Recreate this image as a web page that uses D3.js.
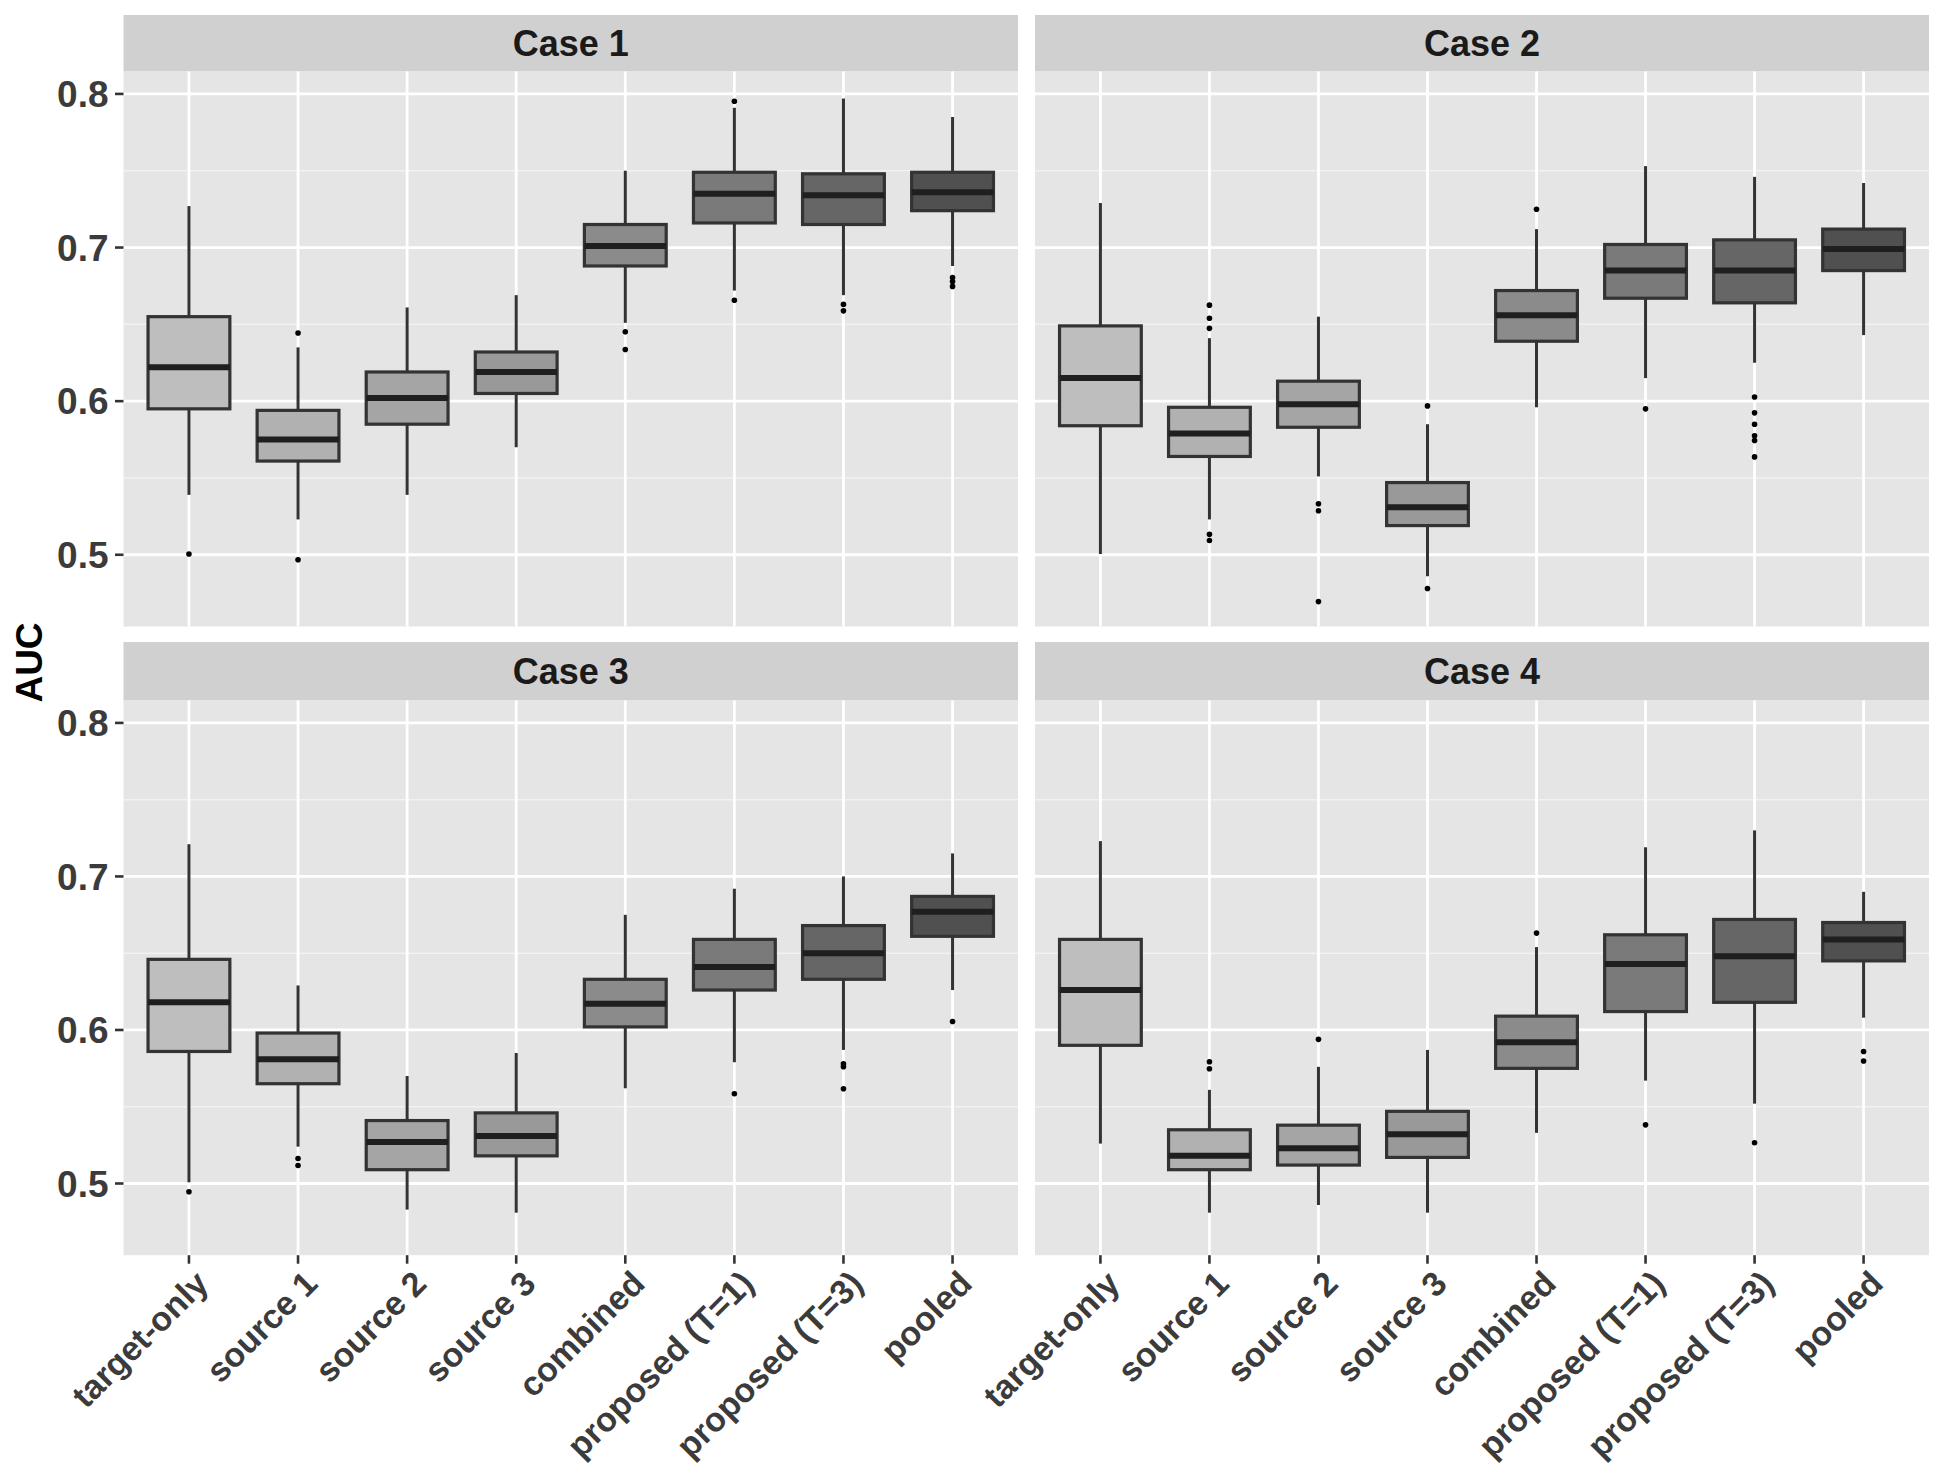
<!DOCTYPE html>
<html>
<head>
<meta charset="utf-8">
<script src="https://cdn.jsdelivr.net/npm/d3@7"></script>
<style>
  html, body { margin: 0; padding: 0; background: #ffffff; }
  svg { display: block; }
</style>
</head>
<body>
<svg id="chart" width="1950" height="1477"></svg>
<script>
// ---------------- data ----------------
const methods = ["target-only", "source 1", "source 2", "source 3", "combined", "proposed (T=1)", "proposed (T=3)", "pooled"];
const caseTitles = ["Case 1", "Case 2", "Case 3", "Case 4"];
const yTicks = [0.5, 0.6, 0.7, 0.8];
const yMinor = [0.55, 0.65, 0.75];
const fillColors = ["#bebebe", "#b1b1b1", "#a5a5a5", "#999999", "#8b8b8b", "#7a7a7a", "#666666", "#505050"];

// five-number summaries per method: [lower whisker, Q1, median, Q3, upper whisker]
const case1Stats = [
  [0.539, 0.595, 0.622, 0.655, 0.727],
  [0.523, 0.561, 0.575, 0.594, 0.635],
  [0.539, 0.585, 0.602, 0.619, 0.661],
  [0.570, 0.605, 0.619, 0.632, 0.669],
  [0.651, 0.688, 0.701, 0.715, 0.750],
  [0.672, 0.716, 0.735, 0.749, 0.791],
  [0.669, 0.715, 0.734, 0.748, 0.797],
  [0.688, 0.724, 0.736, 0.749, 0.785]
];
const case1Outliers = [[0.5005], [0.6444, 0.4968], [], [], [0.6452, 0.6336], [0.7952, 0.6657], [0.663, 0.6588], [0.6805, 0.6779, 0.6747]];

const case2Stats = [
  [0.5005, 0.584, 0.615, 0.649, 0.729],
  [0.523, 0.564, 0.579, 0.596, 0.641],
  [0.551, 0.583, 0.598, 0.613, 0.655],
  [0.486, 0.519, 0.531, 0.547, 0.585],
  [0.596, 0.639, 0.656, 0.672, 0.712],
  [0.615, 0.667, 0.685, 0.702, 0.753],
  [0.625, 0.664, 0.685, 0.705, 0.746],
  [0.643, 0.685, 0.699, 0.712, 0.742]
];
const case2Outliers = [[], [0.6625, 0.654, 0.6474, 0.5133, 0.5093], [0.5332, 0.5287, 0.4695], [0.5969, 0.478], [0.7249], [0.595], [0.6027, 0.5924, 0.585, 0.5775, 0.5744, 0.5637], []];

const case3Stats = [
  [0.5008, 0.586, 0.618, 0.646, 0.721],
  [0.524, 0.565, 0.581, 0.598, 0.629],
  [0.483, 0.509, 0.527, 0.541, 0.570],
  [0.481, 0.518, 0.531, 0.546, 0.585],
  [0.562, 0.602, 0.617, 0.633, 0.675],
  [0.579, 0.626, 0.641, 0.659, 0.692],
  [0.587, 0.633, 0.650, 0.668, 0.700],
  [0.626, 0.661, 0.677, 0.687, 0.715]
];
const case3Outliers = [[0.4946], [0.5163, 0.5117], [], [], [], [0.5585], [0.5779, 0.576, 0.5617], [0.6055]];

const case4Stats = [
  [0.526, 0.590, 0.626, 0.659, 0.723],
  [0.481, 0.509, 0.518, 0.535, 0.561],
  [0.486, 0.512, 0.523, 0.538, 0.576],
  [0.481, 0.517, 0.532, 0.547, 0.587],
  [0.533, 0.575, 0.592, 0.609, 0.654],
  [0.567, 0.612, 0.643, 0.662, 0.719],
  [0.552, 0.618, 0.648, 0.672, 0.730],
  [0.608, 0.645, 0.659, 0.670, 0.690]
];
const case4Outliers = [[], [0.5793, 0.5747], [0.5939], [], [0.6631], [0.5382], [0.5265], [0.586, 0.5798]];

const allStats = [case1Stats, case2Stats, case3Stats, case4Stats];
const allOutliers = [case1Outliers, case2Outliers, case3Outliers, case4Outliers];

// ---------------- layout ----------------
const svg = d3.select("#chart");
const colX = [[123.5, 1018], [1035, 1929]];
const rowY = [{strip: 15, top: 71.5, bottom: 626.5}, {strip: 642, top: 700.5, bottom: 1255.2}];
const yDomain = [0.4533, 0.8146];

const font = "'Liberation Sans', Arial, Helvetica, sans-serif";

caseTitles.forEach((title, ci) => {
  const col = ci % 2, row = Math.floor(ci / 2);
  const [x0, x1] = colX[col];
  const r = rowY[row];
  const x = d3.scaleBand().domain(methods).range([x0, x1]).paddingOuter(0.1).paddingInner(0); // placeholder
  // ggplot discrete expansion: 0.6 units each side
  const step = (x1 - x0) / (methods.length - 1 + 1.2);
  const xPos = d3.scalePoint().domain(methods).range([x0 + 0.6 * step, x1 - 0.6 * step]);
  const y = d3.scaleLinear().domain(yDomain).range([r.bottom, r.top]);
  const g = svg.append("g");

  // strip
  g.append("rect").attr("x", x0).attr("y", r.strip).attr("width", x1 - x0).attr("height", r.top - r.strip).attr("fill", "#d0d0d0");
  g.append("text").attr("x", (x0 + x1) / 2).attr("y", (r.strip + r.top) / 2).attr("dy", "0.36em")
    .attr("text-anchor", "middle").attr("font-family", font).attr("font-weight", "bold")
    .attr("font-size", 36).attr("fill", "#1a1a1a").text(title);

  // panel background
  g.append("rect").attr("x", x0).attr("y", r.top).attr("width", x1 - x0).attr("height", r.bottom - r.top).attr("fill", "#e5e5e5");

  // grid lines
  g.selectAll(".minor").data(yMinor).join("line")
    .attr("x1", x0).attr("x2", x1).attr("y1", d => y(d)).attr("y2", d => y(d))
    .attr("stroke", "#f2f2f2").attr("stroke-width", 1.5);
  g.selectAll(".major").data(yTicks).join("line")
    .attr("x1", x0).attr("x2", x1).attr("y1", d => y(d)).attr("y2", d => y(d))
    .attr("stroke", "#ffffff").attr("stroke-width", 2.8);
  g.selectAll(".vmajor").data(methods).join("line")
    .attr("x1", d => xPos(d)).attr("x2", d => xPos(d)).attr("y1", r.top).attr("y2", r.bottom)
    .attr("stroke", "#ffffff").attr("stroke-width", 2.8);

  const stats = allStats[ci];
  const outs = allOutliers[ci];
  const bw = 0.75 * step;

  methods.forEach((m, mi) => {
    const [lo, q1, med, q3, hi] = stats[mi];
    const cx = xPos(m);
    // whiskers
    g.append("line").attr("x1", cx).attr("x2", cx).attr("y1", y(hi)).attr("y2", y(q3))
      .attr("stroke", "#333333").attr("stroke-width", 3);
    g.append("line").attr("x1", cx).attr("x2", cx).attr("y1", y(q1)).attr("y2", y(lo))
      .attr("stroke", "#333333").attr("stroke-width", 3);
    // box
    g.append("rect").attr("x", cx - bw / 2).attr("y", y(q3)).attr("width", bw).attr("height", y(q1) - y(q3))
      .attr("fill", fillColors[mi]).attr("stroke", "#333333").attr("stroke-width", 3.2);
    // median
    g.append("line").attr("x1", cx - bw / 2).attr("x2", cx + bw / 2).attr("y1", y(med)).attr("y2", y(med))
      .attr("stroke", "#1f1f1f").attr("stroke-width", 6);
    // outliers
    g.selectAll(null).data(outs[mi]).join("circle")
      .attr("cx", cx).attr("cy", d => y(d)).attr("r", 2.8).attr("fill", "#000000");
  });

  // y axis (left column only)
  if (col === 0) {
    g.selectAll(".ytick").data(yTicks).join("line")
      .attr("x1", x0 - 8.5).attr("x2", x0).attr("y1", d => y(d)).attr("y2", d => y(d))
      .attr("stroke", "#333333").attr("stroke-width", 2.6);
    g.selectAll(".ylab").data(yTicks).join("text")
      .attr("x", x0 - 15).attr("y", d => y(d)).attr("dy", "0.36em")
      .attr("text-anchor", "end").attr("font-family", font).attr("font-weight", "bold")
      .attr("font-size", 37).attr("fill", "#3b3b3b").text(d => d3.format(".1f")(d));
  }
  // x axis (bottom row only)
  if (row === 1) {
    g.selectAll(".xtick").data(methods).join("line")
      .attr("x1", d => xPos(d)).attr("x2", d => xPos(d)).attr("y1", r.bottom).attr("y2", r.bottom + 8.5)
      .attr("stroke", "#333333").attr("stroke-width", 2.6);
    g.selectAll(".xlab").data(methods).join("text")
      .attr("transform", d => `translate(${xPos(d) + 4},${r.bottom + 13}) rotate(-45)`)
      .attr("dy", "0.72em")
      .attr("text-anchor", "end").attr("font-family", font).attr("font-weight", "bold")
      .attr("font-size", 34).attr("fill", "#3b3b3b").text(d => d);
  }
});

// y axis title
svg.append("text")
  .attr("transform", "translate(28.5,662.5) rotate(-90)")
  .attr("dy", "0.36em")
  .attr("text-anchor", "middle").attr("font-family", font).attr("font-weight", "bold")
  .attr("font-size", 37).attr("fill", "#000000").text("AUC");
</script>
</body>
</html>
